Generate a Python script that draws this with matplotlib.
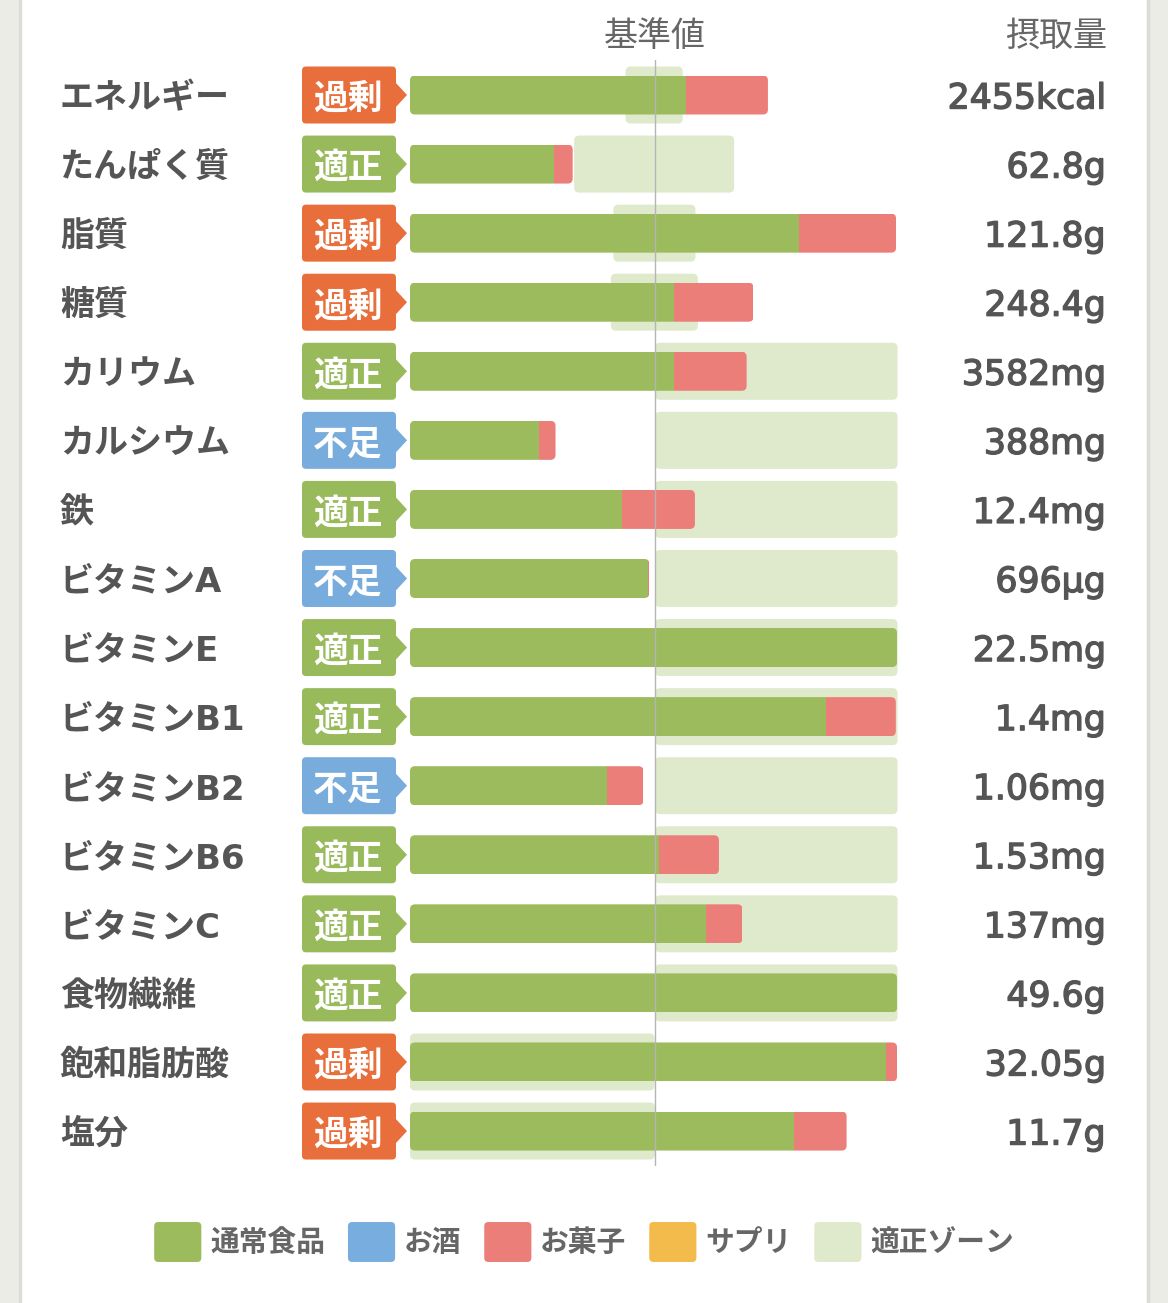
import matplotlib
matplotlib.use('Agg')
import matplotlib.pyplot as plt
from matplotlib.patches import FancyBboxPatch, Rectangle, Polygon
from matplotlib.legend_handler import HandlerPatch
import matplotlib.patheffects as pe

plt.rcParams['font.family'] = ['Noto Sans CJK JP', 'DejaVu Sans']

# ---------------- data ----------------
nutrients = ['エネルギー', 'たんぱく質', '脂質', '糖質', 'カリウム', 'カルシウム', '鉄',
             'ビタミンA', 'ビタミンE', 'ビタミンB1', 'ビタミンB2', 'ビタミンB6',
             'ビタミンC', '食物繊維', '飽和脂肪酸', '塩分']
status = ['過剰', '適正', '過剰', '過剰', '適正', '不足', '適正', '不足',
          '適正', '適正', '不足', '適正', '適正', '適正', '過剰', '過剰']
intake_labels = ['2455kcal', '62.8g', '121.8g', '248.4g', '3582mg', '388mg', '12.4mg',
                 '696μg', '22.5mg', '1.4mg', '1.06mg', '1.53mg', '137mg', '49.6g',
                 '32.05g', '11.7g']
# values as % of the reference value (基準値 = 100)
food = [112.5, 58.6, 158.8, 107.6, 107.6, 52.8, 86.7, 97.0,
        198.8, 169.8, 80.6, 101.7, 121.0, 198.8, 194.2, 156.6]
alcohol = [0] * 16
sweets = [33.6, 7.8, 39.6, 32.6, 29.8, 6.6, 29.6, 0.7,
          0.0, 28.5, 14.7, 24.4, 14.7, 0.0, 4.6, 21.6]
supplement = [0] * 16
zone_lo = [88.0, 67.0, 83.0, 82.0, 100, 100, 100, 100,
           100, 100, 100, 100, 100, 100, 0, 0]
zone_hi = [111.3, 132.3, 116.5, 117.5, 199, 199, 199, 199,
           199, 199, 199, 199, 199, 199, 99.8, 100]
legend_labels = ['通常食品', 'お酒', 'お菓子', 'サプリ', '適正ゾーン']

# ---------------- style ----------------
GREEN = '#9bbb5d'
BLUE = '#78addf'
PINK = '#ec7e7a'
YELLOW = '#f3bb4c'
ZONE = '#dfe9cc'
BADGE = {'過剰': '#e86f3b', '適正': '#98ba5b', '不足': '#78acdc'}
TXT = '#555555'

W, H = 1168, 1303
fig = plt.figure(figsize=(W / 100, H / 100), dpi=100)
fig.patch.set_facecolor('white')

# side margins
fig.add_artist(Rectangle((0, 0), 19 / W, 1, transform=fig.transFigure, color='#ececE7', zorder=0))
fig.add_artist(Rectangle((19 / W, 0), 2 / W, 1, transform=fig.transFigure, color='#dcdcd6', zorder=0))
fig.add_artist(Rectangle((1147 / W, 0), 21 / W, 1, transform=fig.transFigure, color='#ececE7', zorder=0))
fig.add_artist(Rectangle((1147 / W, 0), 2 / W, 1, transform=fig.transFigure, color='#dcdcd6', zorder=0))

n = len(nutrients)
row_px = 69.07
top_px = 95 - row_px / 2
bot_px = top_px + row_px * n
ax_bottom = 1 - bot_px / H
ax_height = (bot_px - top_px) / H

# overlay axes for labels (x in pixel layout units), shares y with main axes
lab = fig.add_axes([0, ax_bottom, 1, ax_height])
lab.set_xlim(0, W)
lab.set_ylim(n - 0.5, -0.5)
lab.axis('off')

ax = fig.add_axes([410 / W, ax_bottom, 490 / W, ax_height], sharey=lab)
ax.set_facecolor('none')
ax.set_xlim(0, 200)
ax.set_ylim(n - 0.5, -0.5)
ax.axis('off')

px_x = 490 / 200.0
asp = px_x / row_px
bar_h = 39 / row_px
zone_h = 57 / row_px
r = 5 / px_x
dy = 3.5 / row_px  # text baseline nudge

# zones
for i in range(n):
    z = FancyBboxPatch((zone_lo[i], i - zone_h / 2), zone_hi[i] - zone_lo[i], zone_h,
                       boxstyle=f"round,pad=0,rounding_size={r}", mutation_aspect=asp,
                       facecolor=ZONE, edgecolor='none', zorder=1)
    ax.add_patch(z)

# stacked bars
ypos = list(range(n))
lefts = [0.0] * n
segments = []
for vals, col in [(food, GREEN), (alcohol, BLUE), (sweets, PINK), (supplement, YELLOW)]:
    bc = ax.barh(ypos, vals, left=lefts, height=bar_h, color=col, edgecolor='none', zorder=3)
    segments.append(bc)
    lefts = [a + b for a, b in zip(lefts, vals)]

for i in range(n):
    clip = FancyBboxPatch((0, i - bar_h / 2), lefts[i], bar_h,
                          boxstyle=f"round,pad=0,rounding_size={r}", mutation_aspect=asp,
                          facecolor='none', edgecolor='none', transform=ax.transData)
    for bc in segments:
        bc.patches[i].set_clip_path(clip)

ax.axvline(100, color='#b5b5b5', lw=1, zorder=5)

val_fx = [pe.withStroke(linewidth=1.0, foreground=TXT)]

# labels, badges, values
for i in range(n):
    lab.text(60, i + dy, nutrients[i], ha='left', va='center', fontsize=24.5,
             fontweight='bold', color=TXT, family=['DejaVu Sans', 'Noto Sans CJK JP'])
    col = BADGE[status[i]]
    b = FancyBboxPatch((302, i - zone_h / 2), 94, zone_h,
                       boxstyle="round,pad=0,rounding_size=4", mutation_aspect=1 / row_px,
                       facecolor=col, edgecolor='none', zorder=2)
    lab.add_patch(b)
    ah = 13 / row_px
    lab.add_patch(Polygon([(395, i - ah), (407, i), (395, i + ah)], closed=True,
                          facecolor=col, edgecolor='none', zorder=2))
    lab.text(348, i + dy, status[i], ha='center', va='center', fontsize=25,
             fontweight='bold', color='white', zorder=3)
    lab.text(1106, i + dy, intake_labels[i], ha='right', va='center', fontsize=25,
             color=TXT, family=['DejaVu Sans', 'Noto Sans CJK JP'], path_effects=val_fx)

hy = -0.5 - (top_px - 33) / row_px + dy
ax.text(100, hy, '基準値', ha='center', va='center', fontsize=24.5, color='#666666')
lab.text(1107, hy, '摂取量', ha='right', va='center', fontsize=24.5, color='#666666')

# legend
def round_patch(legend, orig_handle, xdescent, ydescent, width, height, fontsize):
    return FancyBboxPatch((-xdescent, -ydescent), width, height,
                          boxstyle="round,pad=0,rounding_size=3")

handles = [Rectangle((0, 0), 1, 1, facecolor=c, edgecolor='none')
           for c in [GREEN, BLUE, PINK, YELLOW, ZONE]]
leg = fig.legend(handles, legend_labels, loc='center', bbox_to_anchor=(584 / W, 1 - 1242 / H),
                 ncol=5, frameon=False, fontsize=20.7, handlelength=1.64, handleheight=1.76,
                 handletextpad=0.3, columnspacing=0.8,
                 handler_map={Rectangle: HandlerPatch(patch_func=round_patch)})
for t in leg.get_texts():
    t.set_color('#666666')
    t.set_fontweight('bold')

fig.savefig('out.png', dpi=100)
